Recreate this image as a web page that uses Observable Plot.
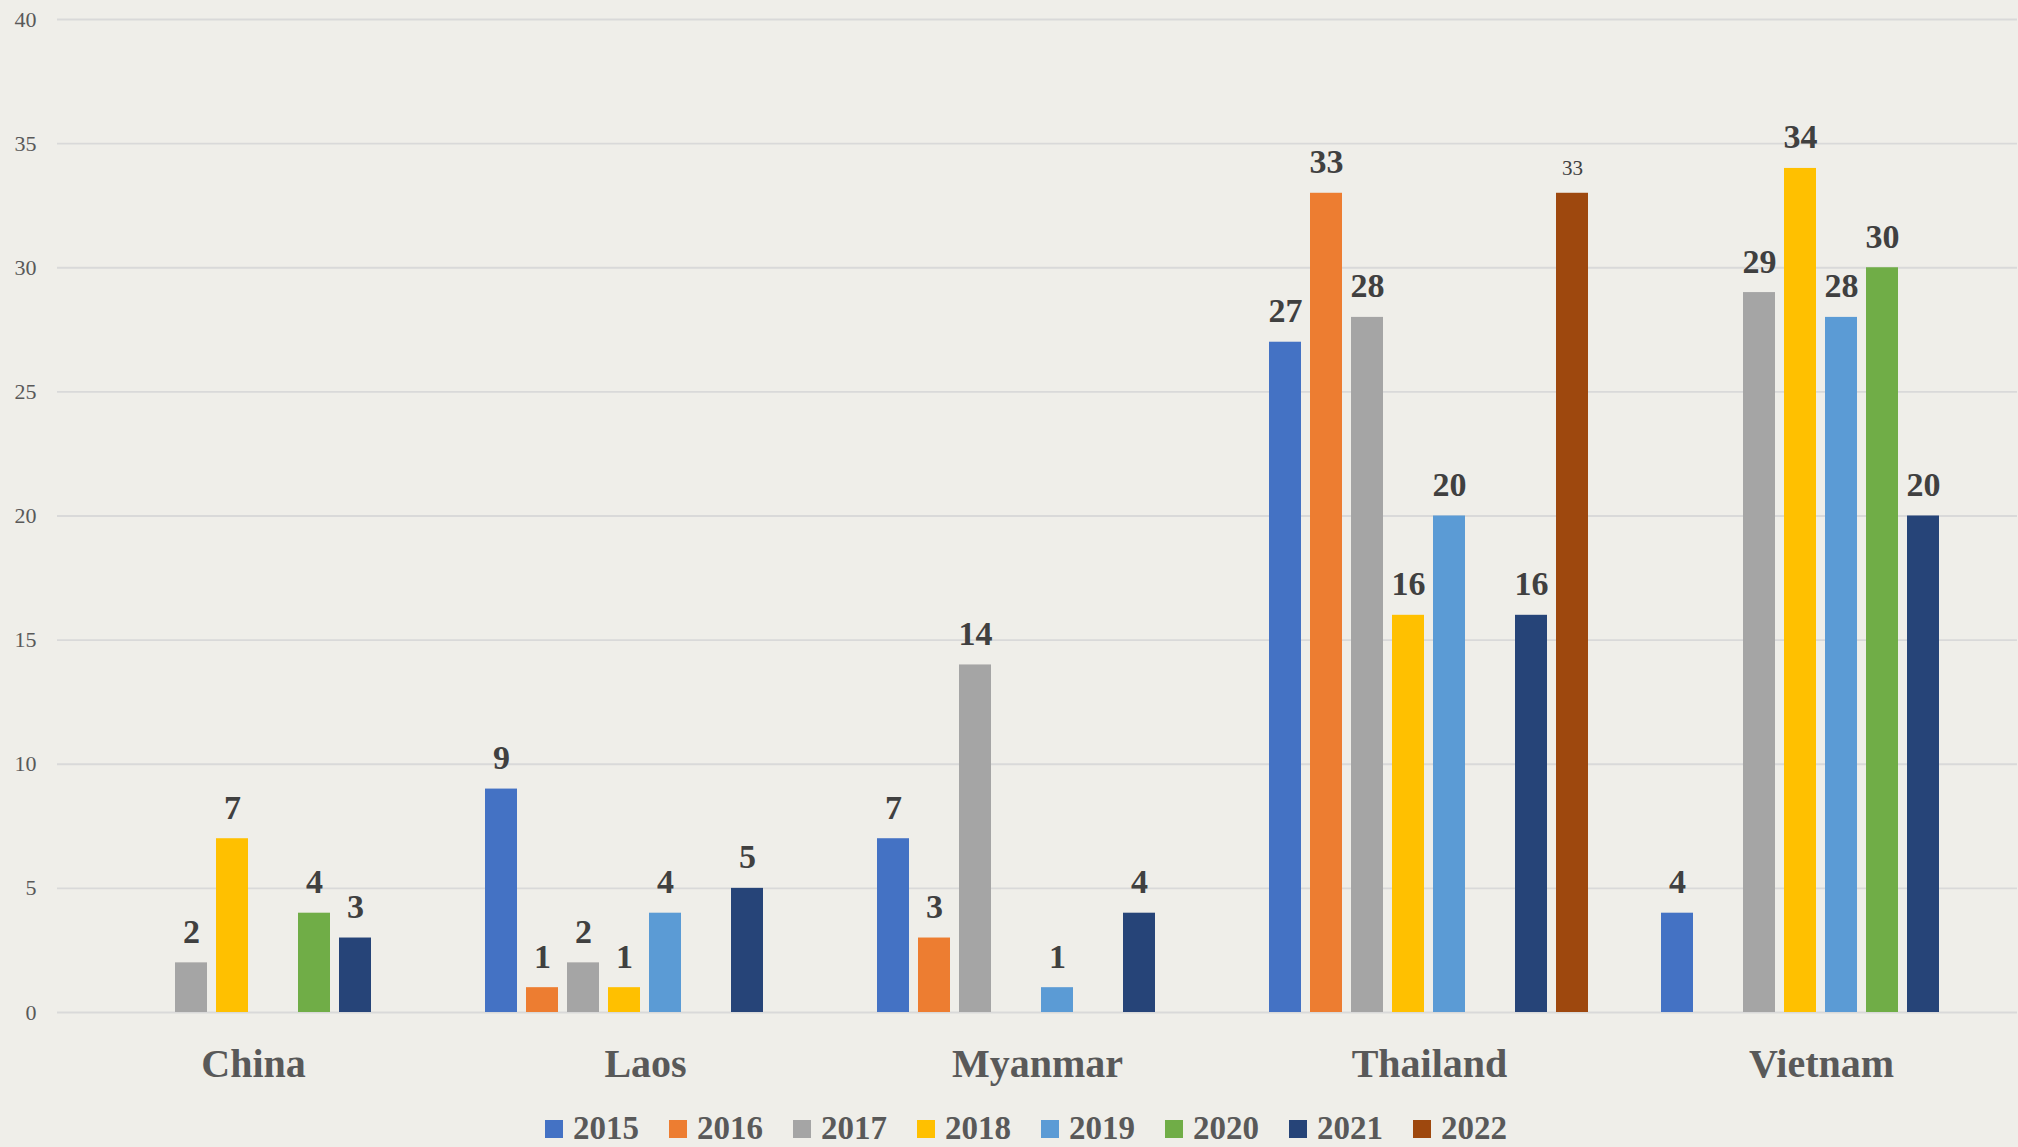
<!DOCTYPE html>
<html>
<head>
<meta charset="utf-8">
<script src="https://cdn.jsdelivr.net/npm/d3@7"></script>
<script src="https://cdn.jsdelivr.net/npm/@observablehq/plot@0.6"></script>
<style>
  html, body { margin: 0; padding: 0; background: #efeee9; }
  #chart { position: relative; width: 2018px; height: 1147px; background: #efeee9; overflow: hidden; }
  svg { font-family: "Liberation Serif", "DejaVu Serif", serif; }
  #legend { position: absolute; left: 0; top: 1110px; height: 36px; width: 2018px; display: flex; justify-content: center;
            font-family: "Liberation Serif", "DejaVu Serif", serif; font-weight: bold; font-size: 33px; color: #595959; line-height: 36px; }
  #legend .item { display: flex; align-items: center; margin: 0 15px; height: 36px; }
  #legend .sw { width: 18px; height: 18px; margin-right: 10px; margin-top: 2px; }
</style>
</head>
<body>
<div id="chart"><div id="legend"></div></div>
<script>
const countries = ["China", "Laos", "Myanmar", "Thailand", "Vietnam"];
const years = ["2015", "2016", "2017", "2018", "2019", "2020", "2021", "2022"];
const colors = ["#4472C4", "#ED7D31", "#A5A5A5", "#FFC000", "#5B9BD5", "#70AD47", "#264478", "#9E480E"];
// values per year, in country order (null = no bar)
const v2015 = [null, 9, 7, 27, 4];
const v2016 = [null, 1, 3, 33, null];
const v2017 = [2, 2, 14, 28, 29];
const v2018 = [7, 1, null, 16, 34];
const v2019 = [null, 4, 1, 20, 28];
const v2020 = [4, null, null, null, 30];
const v2021 = [3, 5, 4, 16, 20];
const v2022 = [null, null, null, 33, null];
const yTicks = [0, 5, 10, 15, 20, 25, 30, 35, 40];

const series = [v2015, v2016, v2017, v2018, v2019, v2020, v2021, v2022];
const rows = [];
series.forEach((vals, i) => vals.forEach((v, j) => {
  if (v != null) rows.push({country: countries[j], year: years[i], value: v});
}));
const isSmall = d => d.year === "2022";

const plot = Plot.plot({
  width: 2018,
  height: 1100,
  marginTop: 19,
  marginLeft: 57,
  marginRight: 1,
  marginBottom: 88,
  style: {background: "#efeee9", color: "#595959"},
  fx: {domain: countries, padding: 0},
  x: {domain: years, paddingInner: 0.211, paddingOuter: 0.863, axis: null},
  y: {domain: [0, 40]},
  color: {domain: years, range: colors},
  marks: [
    Plot.gridY(yTicks, {stroke: "#d9d9d9", strokeOpacity: 1, strokeWidth: 1.8}),
    Plot.axisY(yTicks, {tickSize: 0, tickPadding: 21, fontSize: 22, label: null}),
    Plot.axisFx({anchor: "bottom", tickSize: 0, tickPadding: 36, fontSize: 40, fontWeight: "bold", label: null}),
    Plot.barY(rows, {fx: "country", x: "year", y: "value", fill: "year"}),
    Plot.text(rows.filter(d => !isSmall(d)), {fx: "country", x: "year", y: "value", text: d => String(d.value),
      lineAnchor: "bottom", dy: -20, fontSize: 34, fontWeight: "bold", fill: "#404040"}),
    Plot.text(rows.filter(isSmall), {fx: "country", x: "year", y: "value", text: d => String(d.value),
      lineAnchor: "bottom", dy: -18, fontSize: 21, fill: "#404040"})
  ]
});
document.getElementById("chart").insertBefore(plot, document.getElementById("legend"));

const legend = document.getElementById("legend");
years.forEach((y, i) => {
  const item = document.createElement("div");
  item.className = "item";
  const sw = document.createElement("div");
  sw.className = "sw";
  sw.style.background = colors[i];
  const t = document.createElement("span");
  t.textContent = y;
  item.appendChild(sw);
  item.appendChild(t);
  legend.appendChild(item);
});
legend.style.paddingLeft = "34px";
legend.style.boxSizing = "border-box";
</script>
</body>
</html>
